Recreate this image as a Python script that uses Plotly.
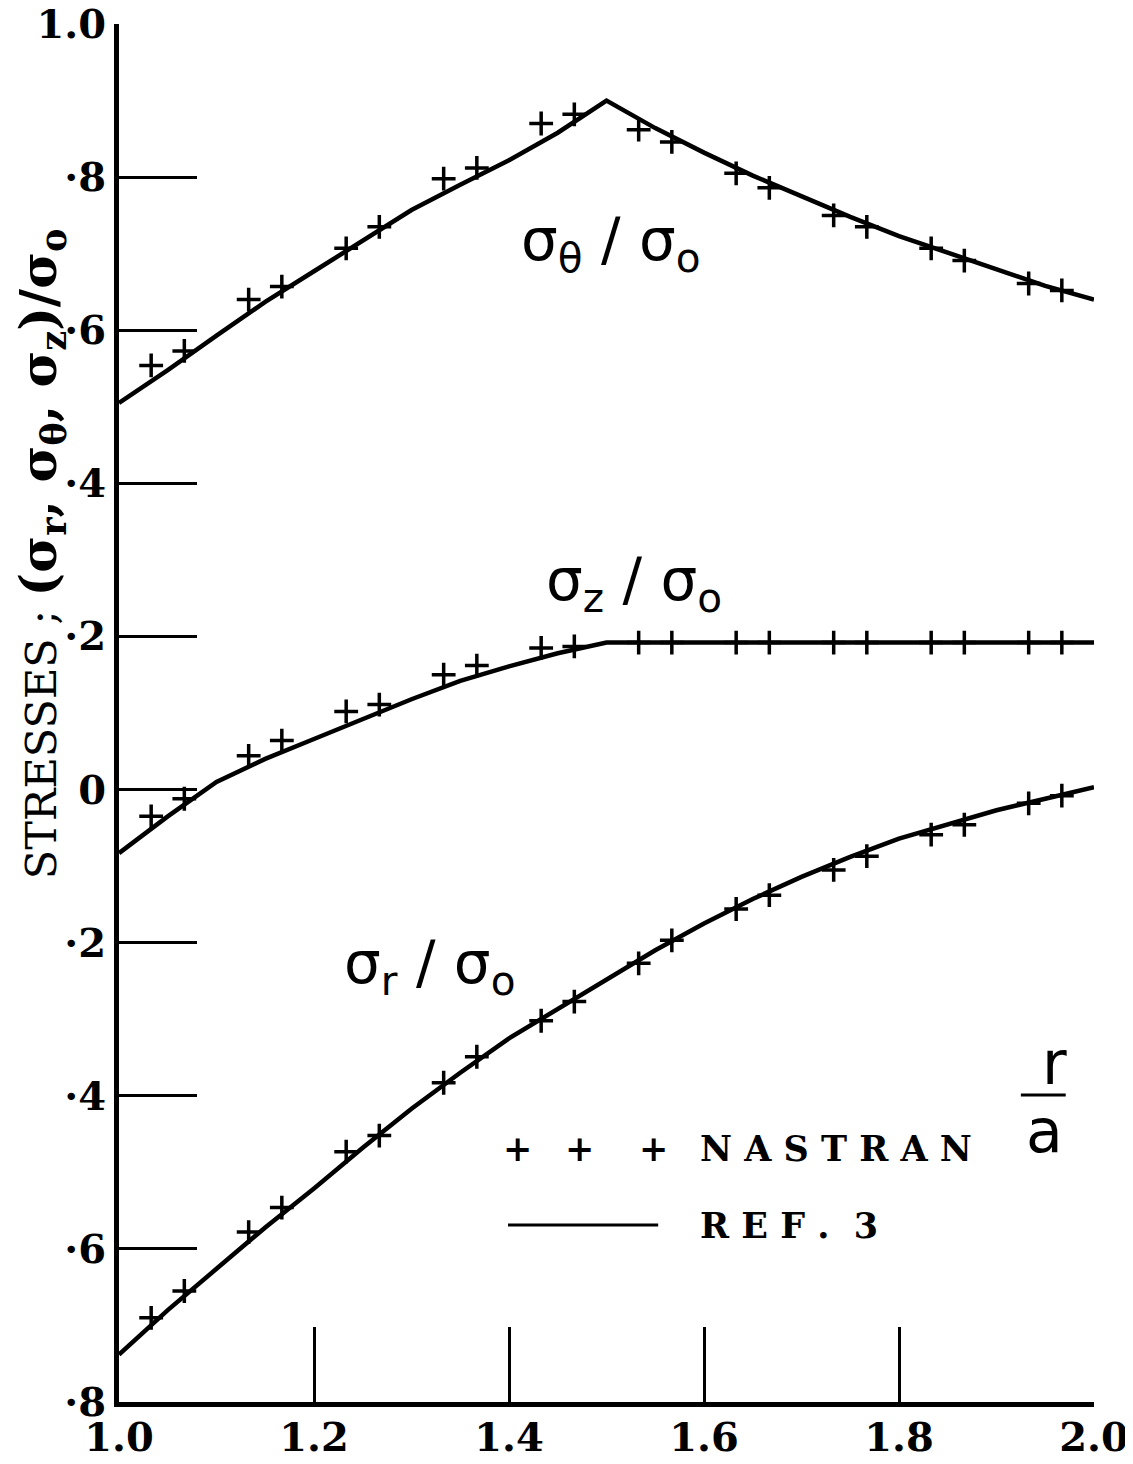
import plotly.graph_objects as go

# ---------------- data ----------------
# REF. 3 curves
r_line = [1.00, 1.05, 1.10, 1.15, 1.20, 1.25, 1.30, 1.35, 1.40, 1.45, 1.50,
          1.55, 1.60, 1.65, 1.70, 1.75, 1.80, 1.85, 1.90, 1.95, 2.00]
theta_line = [0.505, 0.548, 0.593, 0.637, 0.677, 0.717, 0.757, 0.790, 0.822, 0.858, 0.900,
              0.864, 0.832, 0.802, 0.775, 0.748, 0.723, 0.701, 0.679, 0.658, 0.640]
z_line = [-0.083, -0.035, 0.010, 0.040, 0.066, 0.092, 0.118, 0.142, 0.161, 0.178, 0.192,
          0.192, 0.192, 0.192, 0.192, 0.192, 0.192, 0.192, 0.192, 0.192, 0.192]
r_stress_line = [-0.738, -0.680, -0.626, -0.572, -0.521, -0.468, -0.417, -0.370, -0.325, -0.287, -0.249,
                 -0.210, -0.175, -0.143, -0.114, -0.088, -0.064, -0.045, -0.027, -0.012, 0.003]

# NASTRAN points
r_nas = [1.033, 1.067, 1.133, 1.167, 1.233, 1.267, 1.333, 1.367, 1.433, 1.467,
         1.533, 1.567, 1.633, 1.667, 1.733, 1.767, 1.833, 1.867, 1.933, 1.967]
theta_nas = [0.554, 0.573, 0.640, 0.657, 0.707, 0.735, 0.798, 0.812, 0.870, 0.882,
             0.862, 0.846, 0.805, 0.786, 0.750, 0.735, 0.707, 0.691, 0.661, 0.652]
z_nas = [-0.035, -0.012, 0.044, 0.064, 0.102, 0.111, 0.150, 0.162, 0.185, 0.187,
         0.192, 0.192, 0.192, 0.192, 0.192, 0.192, 0.192, 0.192, 0.192, 0.192]
r_stress_nas = [-0.690, -0.655, -0.578, -0.546, -0.473, -0.452, -0.383, -0.349, -0.302, -0.277,
                -0.227, -0.197, -0.156, -0.138, -0.105, -0.087, -0.059, -0.046, -0.018, -0.008]

x_ticks = [1.0, 1.2, 1.4, 1.6, 1.8, 2.0]
x_ticktext = ["1.0", "1.2", "1.4", "1.6", "1.8", "2.0"]
y_ticks = [-0.8, -0.6, -0.4, -0.2, 0.0, 0.2, 0.4, 0.6, 0.8, 1.0]
y_ticktext = ["·8", "·6", "·4", "·2", "0", "·2", "·4", "·6", "·8", "1.0"]

# ---------------- figure ----------------
fig = go.Figure()

line_style = dict(color="black", width=4.5)
marker_style = dict(symbol="cross-thin", size=17, color="black",
                    line=dict(color="black", width=3.5))

for yl, name in [(theta_line, "σθ/σo"), (z_line, "σz/σo"), (r_stress_line, "σr/σo")]:
    fig.add_trace(go.Scatter(x=r_line, y=yl, mode="lines", line=line_style,
                             name="REF. 3 " + name, showlegend=False))
for yn, name in [(theta_nas, "σθ/σo"), (z_nas, "σz/σo"), (r_stress_nas, "σr/σo")]:
    fig.add_trace(go.Scatter(x=r_nas, y=yn, mode="markers", marker=marker_style,
                             name="NASTRAN " + name, showlegend=False))

serif_bold = dict(family="DejaVu Serif", size=40, color="black", weight="bold")

fig.update_layout(
    width=1126, height=1454,
    margin=dict(l=111, r=40, t=16, b=60),
    paper_bgcolor="white", plot_bgcolor="white",
    xaxis=dict(range=[1.0, 2.0], tickvals=x_ticks, ticktext=x_ticktext,
               ticks="inside", ticklen=75, tickwidth=3, tickcolor="black",
               showline=True, linewidth=5, linecolor="black", automargin=False,
               ticklabeloverflow="allow", ticklabelstandoff=-4,
               showgrid=False, zeroline=False, tickfont=serif_bold),
    yaxis=dict(range=[-0.8, 1.0], tickvals=y_ticks, ticktext=y_ticktext,
               ticks="inside", ticklen=78, tickwidth=3, tickcolor="black",
               showline=True, linewidth=5, linecolor="black", automargin=False,
               ticklabeloverflow="allow",
               showgrid=False, zeroline=False, tickfont=serif_bold),
    showlegend=False,
)

hand = dict(family="DejaVu Sans", size=58, color="black")

# curve labels
fig.add_annotation(x=1.505, y=0.712, text="σ<sub>θ</sub> / σ<sub>o</sub>",
                   showarrow=False, font=hand, xanchor="center", yanchor="middle")
fig.add_annotation(x=1.528, y=0.268, text="σ<sub>z</sub> / σ<sub>o</sub>",
                   showarrow=False, font=hand, xanchor="center", yanchor="middle")
fig.add_annotation(x=1.318, y=-0.232, text="σ<sub>r</sub> / σ<sub>o</sub>",
                   showarrow=False, font=hand, xanchor="center", yanchor="middle")

# y axis title
fig.add_annotation(xref="paper", yref="paper", x=-0.079, y=0.616, textangle=-90,
                   text=("STRESSES ; <span style='font-size:50px'><b>(σ<sub>r</sub>, σ<sub>θ</sub>,"
                         " σ<sub>z</sub>)/σ<sub>o</sub></b></span>"),
                   showarrow=False, xanchor="center", yanchor="middle",
                   font=dict(family="DejaVu Serif", size=43, color="black"))

# r/a label
fig.add_annotation(xref="paper", yref="paper", x=0.959, y=0.246, text="r",
                   showarrow=False, xanchor="center", yanchor="middle",
                   font=dict(family="DejaVu Sans", size=60, color="black"))
fig.add_annotation(xref="paper", yref="paper", x=0.949, y=0.197, text="a",
                   showarrow=False, xanchor="center", yanchor="middle",
                   font=dict(family="DejaVu Sans", size=60, color="black"))
fig.add_shape(type="line", xref="paper", yref="paper", x0=0.925, x1=0.971,
              y0=0.2228, y1=0.2228, line=dict(color="black", width=3))

# legend (drawn as text + key line)
legend_font = dict(family="DejaVu Serif", size=35, color="black", weight="bold")
for px in [0.409, 0.472, 0.548]:
    fig.add_annotation(xref="paper", yref="paper", x=px, y=0.184, xanchor="center",
                       yanchor="middle", text="+", showarrow=False, font=legend_font)
fig.add_annotation(xref="paper", yref="paper", x=0.594, y=0.184, xanchor="left",
                   yanchor="middle", text="N A S T R A N", showarrow=False, font=legend_font)
fig.add_annotation(xref="paper", yref="paper", x=0.594, y=0.128, xanchor="left",
                   yanchor="middle", text="R E F .  3", showarrow=False, font=legend_font)
fig.add_shape(type="line", xref="paper", yref="paper", x0=0.399, x1=0.553,
              y0=0.1284, y1=0.1284, line=dict(color="black", width=3))

fig.write_html("out.html")
